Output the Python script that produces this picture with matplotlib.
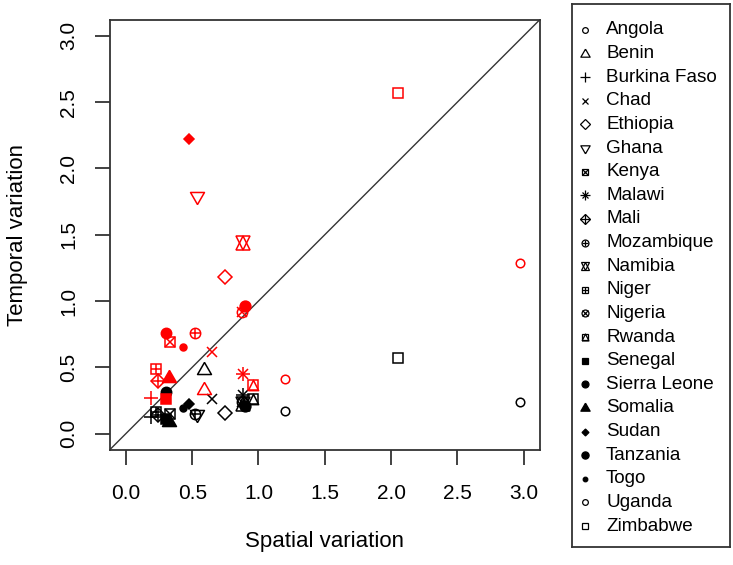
import numpy as np
import matplotlib
matplotlib.use("Agg")
import matplotlib.pyplot as plt

plt.rcParams['font.family'] = ['Liberation Sans', 'DejaVu Sans']

# ---------------- data ----------------
countries = ["Angola", "Benin", "Burkina Faso", "Chad", "Ethiopia", "Ghana", "Kenya",
             "Malawi", "Mali", "Mozambique", "Namibia", "Niger", "Nigeria", "Rwanda",
             "Senegal", "Sierra Leone", "Somalia", "Sudan", "Tanzania", "Togo",
             "Uganda", "Zimbabwe"]
pch = list(range(1, 23))
spatial = [1.20, 0.59, 0.19, 0.65, 0.75, 0.535, 0.335, 0.885, 0.245, 0.52, 0.88,
           0.225, 0.875, 0.96, 0.30, 0.30, 0.325, 0.475, 0.90, 0.43, 2.975, 2.05]
temporal_black = [0.168, 0.48, 0.125, 0.26, 0.155, 0.15, 0.15, 0.29, 0.14, 0.15, 0.22,
                  0.16, 0.24, 0.26, 0.11, 0.31, 0.09, 0.225, 0.21, 0.19, 0.24, 0.57]
temporal_red = [0.41, 0.33, 0.27, 0.615, 1.18, 1.79, 0.69, 0.447, 0.40, 0.76, 1.44,
                0.49, 0.92, 0.37, 0.26, 0.76, 0.42, 2.22, 0.96, 0.655, 1.29, 2.57]
ticks = [0.0, 0.5, 1.0, 1.5, 2.0, 2.5, 3.0]
tick_labels = ["0.0", "0.5", "1.0", "1.5", "2.0", "2.5", "3.0"]

# ---------------- R-like pch symbols ----------------
r3 = np.sqrt(3) / 2
TRI_UP = [(0, 1), (-r3, -0.5), (r3, -0.5), (0, 1)]
TRI_DN = [(0, -1), (-r3, 0.5), (r3, 0.5), (0, -1)]
TRI_SQ = [(-1, -1), (0, 1), (1, -1), (-1, -1)]

# (marker, size factor in units of s, filled)
PCH = {
    1: [("o", 0.62, False)],
    2: [(TRI_UP, 1.166, False)],
    3: [("+", 1.06, False)],
    4: [("x", 0.75, False)],
    5: [("D", 0.75, False)],
    6: [(TRI_DN, 1.166, False)],
    7: [("s", 0.75, False), ("x", 0.75, False)],
    8: [("x", 0.75, False), ("+", 1.06, False)],
    9: [("D", 0.75, False), ("+", 1.06, False)],
    10: [("o", 0.75, False), ("+", 0.75, False)],
    11: [("^", 0.95, False), ("v", 0.95, False)],
    12: [("s", 0.75, False), ("+", 0.75, False)],
    13: [("o", 0.75, False), ("x", 0.75, False)],
    14: [("s", 0.75, False), (TRI_SQ, 0.75, False)],
    15: [("s", 0.75, True)],
    16: [("o", 0.75, True)],
    17: [(TRI_UP, 1.166, True)],
    18: [("D", 0.53, True)],
    19: [("o", 0.78, True)],
    20: [("o", 0.5, True)],
    21: [("o", 0.62, False)],
    22: [("s", 0.665, False)],
}


def draw_pch(ax, x, y, code, color, s_px, lw=1.0):
    for mk, fac, filled in PCH[code]:
        ms = fac * s_px * 0.72
        ax.plot(x, y, linestyle="none", marker=mk, markersize=ms,
                markeredgecolor=color, markerfacecolor=color if filled else "none",
                markeredgewidth=lw, clip_on=False)


# ---------------- figure ----------------
W, H = 733, 565
fig = plt.figure(figsize=(W / 100, H / 100), dpi=100)
ax = fig.add_axes([110 / W, 1 - 449.5 / H, (539.5 - 110) / W, (449.5 - 20) / H])
ax.set_xlim(-0.12, 3.12)
ax.set_ylim(-0.12, 3.12)

ax.plot([-0.12, 3.12], [-0.12, 3.12], color="#333333", lw=1.0)

for i, c in enumerate(countries):
    draw_pch(ax, [spatial[i]], [temporal_black[i]], pch[i], "black", 13.8, lw=1.1)
for i, c in enumerate(countries):
    draw_pch(ax, [spatial[i]], [temporal_red[i]], pch[i], "red", 13.8, lw=1.1)

for sp in ax.spines.values():
    sp.set_color("#333333")
    sp.set_linewidth(1.3)

ax.set_xticks(ticks)
ax.set_xticklabels(tick_labels)
ax.set_yticks(ticks)
ax.set_yticklabels(tick_labels, rotation=90, va="center")
ax.tick_params(axis="both", length=11, width=1.3, color="#333333", labelsize=15)
ax.tick_params(axis="x", pad=14)
ax.tick_params(axis="y", pad=12)
ax.set_xlabel("Spatial variation", fontsize=16, labelpad=20)
ax.set_ylabel("Temporal variation", fontsize=16, labelpad=22)

# ---------------- legend ----------------
lx0, lx1, ly0, ly1 = 572, 729.5, 4, 547
lax = fig.add_axes([lx0 / W, 1 - ly1 / H, (lx1 - lx0) / W, (ly1 - ly0) / H])
lax.set_xlim(lx0, lx1)
lax.set_ylim(ly1, ly0)
lax.set_xticks([])
lax.set_yticks([])
for sp in lax.spines.values():
    sp.set_color("#333333")
    sp.set_linewidth(1.3)
row0, drow = 30, 23.62
for i, c in enumerate(countries):
    yy = row0 + drow * i
    draw_pch(lax, [585], [yy], pch[i], "black", 9.2, lw=0.9)
    lax.text(606, yy, c, fontsize=13.6, va="center", ha="left")

fig.savefig("out.png", dpi=100)
